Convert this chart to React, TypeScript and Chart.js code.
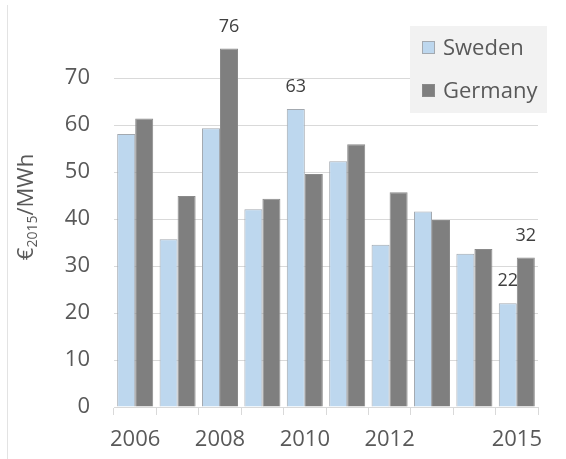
import React, { useEffect, useRef } from "react";
import { Chart, registerables } from "chart.js";

Chart.register(...registerables);

const years = ["2006", "2007", "2008", "2009", "2010", "2011", "2012", "2013", "2014", "2015"];
const shownYears = ["2006", "2008", "2010", "2012", "2015"];
const sweden = [58.1, 35.7, 59.3, 42.1, 63.4, 52.3, 34.5, 41.6, 32.6, 22.1];
const germany = [61.4, 44.9, 76.3, 44.3, 49.6, 55.9, 45.7, 39.8, 33.6, 31.8];
const seriesNames = ["Sweden", "Germany"];
// [datasetIndex, categoryIndex] of bars carrying a value label
const labeledBars: [number, number][] = [
  [1, 2],
  [0, 4],
  [0, 9],
  [1, 9],
];
const yTickValues = [0, 10, 20, 30, 40, 50, 60, 70];

const FONT = "'Open Sans', 'DejaVu Sans', sans-serif";
const TEXT = "#595959";

const overlayPlugin = {
  id: "overlay",
  afterDatasetsDraw(chart: any) {
    const ctx = chart.ctx;
    ctx.save();
    ctx.font = `18px ${FONT}`;
    ctx.fillStyle = "#404040";
    ctx.textAlign = "center";
    ctx.textBaseline = "middle";
    labeledBars.forEach(([d, i]) => {
      const el = chart.getDatasetMeta(d).data[i];
      const v = chart.data.datasets[d].data[i] as number;
      ctx.fillText(String(Math.round(v)), el.x, el.y - 22);
    });
    ctx.restore();
  },
  afterDraw(chart: any) {
    const ctx = chart.ctx;
    ctx.save();
    ctx.strokeStyle = "#e3e3e3";
    ctx.lineWidth = 1;
    ctx.beginPath();
    ctx.moveTo(7.5, 5);
    ctx.lineTo(7.5, chart.height);
    ctx.stroke();

    ctx.fillStyle = "#f2f2f2";
    ctx.fillRect(410, 26, 137, 87);
    ctx.font = `22px ${FONT}`;
    ctx.textAlign = "left";
    ctx.textBaseline = "middle";
    chart.data.datasets.forEach((ds: any, k: number) => {
      const cy = 48 + k * 43;
      ctx.fillStyle = ds.backgroundColor;
      ctx.fillRect(422, cy - 7, 13, 13);
      ctx.strokeStyle = ds.borderColor;
      ctx.lineWidth = 1;
      ctx.strokeRect(422.5, cy - 6.5, 12, 12);
      ctx.fillStyle = TEXT;
      ctx.fillText(ds.label, 443, cy + 1);
    });

    const mainFont = `22px ${FONT}`;
    const subFont = `14px ${FONT}`;
    ctx.font = mainFont;
    const wEuro = ctx.measureText("€").width;
    const wRest = ctx.measureText("/MWh").width;
    ctx.font = subFont;
    const wSub = ctx.measureText("2015").width;
    const total = wEuro + wSub + wRest;
    ctx.translate(33, 207);
    ctx.rotate(-Math.PI / 2);
    ctx.fillStyle = TEXT;
    ctx.textBaseline = "alphabetic";
    let x = -total / 2;
    ctx.font = mainFont;
    ctx.fillText("€", x, 0);
    x += wEuro;
    ctx.font = subFont;
    ctx.fillText("2015", x, 4);
    x += wSub;
    ctx.font = mainFont;
    ctx.fillText("/MWh", x, 0);
    ctx.restore();
  },
};

export default function App() {
  const ref = useRef<HTMLCanvasElement>(null);
  useEffect(() => {
    document.body.style.margin = "0";
    const chart = new Chart(ref.current!, {
      type: "bar",
      data: {
        labels: years,
        datasets: [
          {
            label: seriesNames[0],
            data: sweden,
            backgroundColor: "#bdd7ee",
            borderColor: "#a3a9b0",
            borderWidth: 1,
            categoryPercentage: 0.85,
            barPercentage: 1,
          },
          {
            label: seriesNames[1],
            data: germany,
            backgroundColor: "#7f7f7f",
            borderColor: "#8a8a8a",
            borderWidth: 1,
            categoryPercentage: 0.85,
            barPercentage: 1,
          },
        ],
      },
      options: {
        animation: false,
        responsive: false,
        devicePixelRatio: 1,
        layout: { padding: { top: 31, right: 28, left: 0, bottom: 0 } },
        plugins: {
          legend: { display: false },
          tooltip: { enabled: false },
          title: { display: false },
        },
        scales: {
          x: {
            grid: {
              offset: true,
              drawOnChartArea: false,
              drawTicks: true,
              tickLength: 8,
              color: "#d9d9d9",
            },
            border: { color: "#d9d9d9" },
            ticks: {
              autoSkip: false,
              maxRotation: 0,
              padding: 12,
              color: TEXT,
              font: { family: FONT, size: 22 },
              callback: function (this: any, val: any) {
                const l = this.getLabelForValue(val);
                return shownYears.includes(l) ? l : "";
              },
            },
            afterFit: (s: any) => {
              s.height = 52;
              s.paddingLeft = 0;
              s.paddingRight = 0;
            },
          },
          y: {
            min: 0,
            max: 80,
            grid: {
              drawTicks: false,
              color: (c: any) => (yTickValues.includes(c.tick?.value) ? "#d9d9d9" : "rgba(0,0,0,0)"),
            },
            border: { display: false },
            ticks: {
              stepSize: 10,
              padding: 24,
              color: TEXT,
              font: { family: FONT, size: 22 },
              callback: (v: any) => (yTickValues.includes(v) ? String(v) : ""),
            },
            afterFit: (s: any) => {
              s.width = 114;
              s.paddingTop = 0;
              s.paddingBottom = 0;
            },
          },
        },
      },
      plugins: [overlayPlugin],
    });
    return () => chart.destroy();
  }, []);
  return (
    <div style={{ position: "absolute", left: 0, top: 0, width: 566, height: 459, background: "#fff" }}>
      <canvas ref={ref} width={566} height={459} style={{ width: 566, height: 459 }} />
    </div>
  );
}
